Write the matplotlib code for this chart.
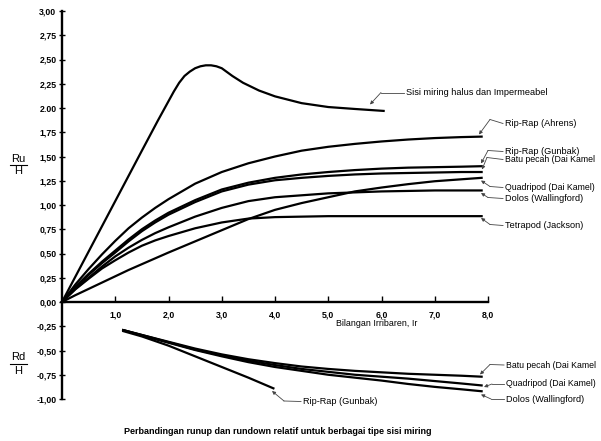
import numpy as np
import matplotlib
matplotlib.use("Agg")
import matplotlib.pyplot as plt
from matplotlib.lines import Line2D

plt.rcParams['font.family'] = ['Liberation Sans', 'DejaVu Sans']

# ---------------- data ----------------
x_sisi = [0, 0.5, 1.0, 1.5, 1.8, 2.0, 2.1, 2.2, 2.3, 2.4, 2.5, 2.6, 2.7, 2.8, 2.9, 3.0, 3.1, 3.2, 3.4, 3.7, 4.0, 4.5, 5.0, 5.5, 6.04]
y_sisi = [0, 0.52, 1.04, 1.56, 1.87, 2.07, 2.17, 2.26, 2.33, 2.375, 2.41, 2.43, 2.44, 2.44, 2.43, 2.41, 2.37, 2.33, 2.26, 2.18, 2.12, 2.05, 2.01, 1.99, 1.97]

x_up = [0, 0.25, 0.5, 0.75, 1, 1.25, 1.5, 1.75, 2, 2.5, 3, 3.5, 4, 4.5, 5, 5.5, 6, 6.5, 7, 7.5, 7.88]
y_ahrens = [0, 0.18, 0.34, 0.49, 0.63, 0.76, 0.87, 0.97, 1.06, 1.22, 1.34, 1.43, 1.50, 1.56, 1.60, 1.63, 1.655, 1.675, 1.69, 1.70, 1.705]
y_gunbak = [0, 0.155, 0.29, 0.415, 0.53, 0.645, 0.75, 0.84, 0.92, 1.05, 1.16, 1.23, 1.28, 1.315, 1.34, 1.36, 1.375, 1.385, 1.39, 1.395, 1.40]
y_batu = [0, 0.15, 0.28, 0.40, 0.51, 0.625, 0.73, 0.82, 0.90, 1.03, 1.14, 1.21, 1.255, 1.28, 1.30, 1.315, 1.325, 1.33, 1.335, 1.34, 1.34]
y_quad = [0, 0.07, 0.135, 0.20, 0.265, 0.33, 0.39, 0.45, 0.51, 0.625, 0.74, 0.855, 0.95, 1.02, 1.08, 1.14, 1.18, 1.215, 1.245, 1.265, 1.28]
y_dolos = [0, 0.135, 0.25, 0.365, 0.47, 0.56, 0.64, 0.71, 0.77, 0.88, 0.97, 1.04, 1.08, 1.10, 1.12, 1.13, 1.14, 1.145, 1.15, 1.15, 1.15]
y_tetra = [0, 0.13, 0.24, 0.345, 0.43, 0.51, 0.58, 0.635, 0.68, 0.76, 0.82, 0.86, 0.875, 0.88, 0.885, 0.885, 0.885, 0.885, 0.885, 0.885, 0.885]

x_dn = [1.15, 1.5, 2, 2.5, 3, 3.5, 4, 4.5, 5, 5.5, 6, 6.5, 7, 7.5, 7.88]
yd_batu = [-0.29, -0.34, -0.41, -0.48, -0.54, -0.59, -0.63, -0.665, -0.69, -0.71, -0.725, -0.74, -0.75, -0.76, -0.77]
yd_quad = [-0.29, -0.34, -0.415, -0.49, -0.55, -0.605, -0.65, -0.69, -0.72, -0.75, -0.77, -0.79, -0.815, -0.84, -0.86]
yd_dolos = [-0.29, -0.345, -0.42, -0.495, -0.56, -0.62, -0.67, -0.71, -0.75, -0.78, -0.81, -0.845, -0.875, -0.90, -0.92]
x_dn_gunbak = [1.15, 1.5, 2, 2.5, 3, 3.5, 3.97]
yd_gunbak = [-0.30, -0.355, -0.45, -0.56, -0.67, -0.78, -0.89]

xtick_vals = [1, 2, 3, 4, 5, 6, 7, 8]
xtick_labels = ["1,0", "2,0", "3,0", "4,0", "5,0", "6,0", "7,0", "8,0"]
ytick_vals = [3.0, 2.75, 2.5, 2.25, 2.0, 1.75, 1.5, 1.25, 1.0, 0.75, 0.5, 0.25, 0.0, -0.25, -0.5, -0.75, -1.0]
ytick_labels = ["3,00", "2,75", "2,50", "2,25", "2.00", "1,75", "1,50", "1,25", "1,00", "0,75",
                "0,50", "0,25", "0,00", "-0,25", "-0,50", "-0,75", "-1,00"]

# ---------------- layout ----------------
W, H = 601, 441
X0, XS = 62.0, 53.25   # pixel of x=0, pixels per unit
Y0, YS = 302.0, 97.0   # pixel of y=0, pixels per unit

def d(px, py):
    return ((px - X0) / XS, (Y0 - py) / YS)

fig = plt.figure(figsize=(W / 100, H / 100), dpi=100)
ax = fig.add_axes([0, 0, 1, 1])
ax.set_xlim(-X0 / XS, (W - X0) / XS)
ax.set_ylim(-(H - Y0) / YS, Y0 / YS)

for s in ['top', 'right']:
    ax.spines[s].set_visible(False)
ax.spines['left'].set_position(('data', 0))
ax.spines['bottom'].set_position(('data', 0))
ax.spines['left'].set_bounds(-1, 3)
ax.spines['bottom'].set_bounds(0, 8)
ax.spines['left'].set_linewidth(1.7)
ax.spines['bottom'].set_linewidth(1.7)

ax.set_xticks(xtick_vals)
ax.set_xticklabels(xtick_labels, fontsize=6.3, fontweight='bold')
ax.set_yticks(ytick_vals)
ax.set_yticklabels(ytick_labels, fontsize=6.3, fontweight='bold')
ax.tick_params(axis='x', direction='in', length=4, width=1, pad=6)
ax.tick_params(axis='y', direction='inout', length=5, width=1, pad=1.5)

lw = 1.6
c = 'black'
ax.plot(x_sisi, y_sisi, color=c, lw=lw, solid_joinstyle='round')
for yy in (y_ahrens, y_gunbak, y_batu, y_quad, y_dolos, y_tetra):
    ax.plot(x_up, yy, color=c, lw=lw, solid_joinstyle='round')
for yy in (yd_batu, yd_quad, yd_dolos):
    ax.plot(x_dn, yy, color=c, lw=lw, solid_joinstyle='round')
ax.plot(x_dn_gunbak, yd_gunbak, color=c, lw=lw, solid_joinstyle='round')

# ---------------- labels with leaders ----------------
lead_col = '#444444'
def label(text, text_px, bend_px, tip_px, fs=6.6):
    tx, ty = d(*text_px)
    sx, sy = d(text_px[0] - 2, text_px[1])
    bx, by = d(*bend_px)
    px_, py_ = d(*tip_px)
    ax.text(tx, ty, text, fontsize=fs, ha='left', va='center')
    ax.plot([sx, bx], [sy, by], color=lead_col, lw=0.6)
    ax.annotate('', xy=(px_, py_), xytext=(bx, by),
                arrowprops=dict(arrowstyle='-|>', color=lead_col, lw=0.6,
                                mutation_scale=5, shrinkA=0, shrinkB=0))

label("Sisi miring halus dan Impermeabel", (406, 92.5), (381, 92.5), (370, 104.5))
label("Rip-Rap (Ahrens)", (505, 123.5), (490, 119.5), (479, 134.5))
label("Rip-Rap (Gunbak)", (505, 151.5), (488, 150.5), (481, 163.5))
label("Batu pecah (Dai Kamel", (505, 159.5), (487, 157.5), (482, 169.5), fs=6.3)
label("Quadripod (Dai Kamel)", (505, 187.5), (490, 186.5), (481, 180.5), fs=6.3)
label("Dolos (Wallingford)", (505, 198.5), (488, 197.5), (481, 193))
label("Tetrapod (Jackson)", (505, 225.5), (490, 224.5), (481, 218))
label("Batu pecah (Dai Kamel", (506, 365), (490, 364.5), (480, 374.5), fs=6.3)
label("Quadripod (Dai Kamel)", (506, 384), (492, 384), (484, 387), fs=6.3)
label("Dolos (Wallingford)", (506, 399), (491, 399), (481, 394.5))
label("Rip-Rap (Gunbak)", (303, 401.5), (284, 401), (272, 391))

# axis title
ax.text(*d(377, 323.5), "Bilangan Irribaren, Ir", fontsize=6.4, ha='center', va='center')

# Ru/H and Rd/H
def frac(top, cy):
    fig.text(18 / W, 1 - (cy - 6.5) / H, top, fontsize=8, ha='center', va='center')
    fig.text(18 / W, 1 - (cy + 6.5) / H, "H", fontsize=8, ha='center', va='center')
    fig.add_artist(Line2D([10 / W, 27 / W], [1 - cy / H, 1 - cy / H],
                          color='black', lw=0.8, transform=fig.transFigure))
frac("Ru", 165)
frac("Rd", 364)

# title
fig.text(278 / W, 1 - 432 / H,
         "Perbandingan runup dan rundown relatif untuk berbagai tipe sisi miring",
         fontsize=6.5, fontweight='bold', ha='center', va='center')

fig.savefig("out.png", dpi=100)
